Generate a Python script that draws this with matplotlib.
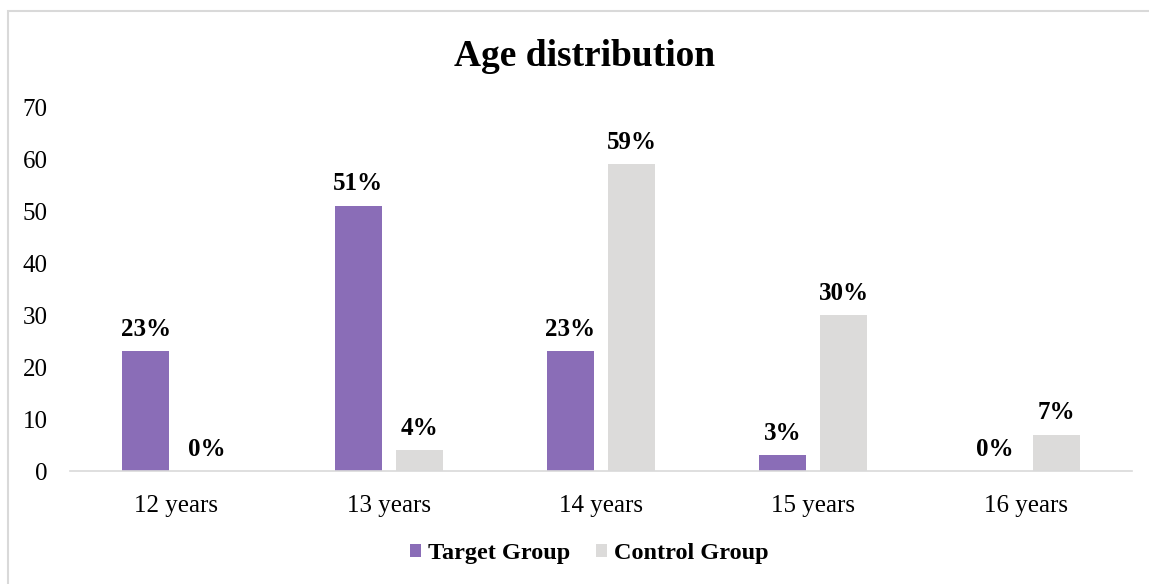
import matplotlib
matplotlib.use("Agg")
import matplotlib.pyplot as plt
import numpy as np
from matplotlib.patches import Rectangle

categories = ["12 years", "13 years", "14 years", "15 years", "16 years"]
target = [23, 51, 23, 3, 0]
control = [0, 4, 59, 30, 7]
series_names = ["Target Group", "Control Group"]
yticks = [0, 10, 20, 30, 40, 50, 60, 70]

plt.rcParams['font.family'] = ['Liberation Serif', 'DejaVu Serif']

W, H = 1149, 584
fig = plt.figure(figsize=(W/100, H/100), dpi=100)
ax = fig.add_axes([70/W, 1-471/H, (1132-70)/W, (471-107)/H])

x = np.arange(len(categories))
bw = 0.221
off = 0.1436
c_t = "#8A6DB7"
c_c = "#DCDBDA"
b1 = ax.bar(x - off, target, bw, color=c_t, label=series_names[0])
b2 = ax.bar(x + off, control, bw, color=c_c, label=series_names[1])

for xi, v in zip(x - off, target):
    ax.text(xi, v + 2.0, f"{v}%", ha="center", va="bottom", fontsize=18, fontweight="bold")
for xi, v in zip(x + off, control):
    ax.text(xi, v + 2.0, f"{v}%", ha="center", va="bottom", fontsize=18, fontweight="bold")

ax.set_xlim(-0.5, len(categories) - 0.5)
ax.set_ylim(0, 70)
ax.set_yticks(yticks)
ax.set_xticks(x)
ax.set_xticklabels(categories)
ax.tick_params(axis="both", length=0, labelsize=18)
ax.tick_params(axis="y", pad=16)
ax.tick_params(axis="x", pad=17)
for s in ["top", "right", "left"]:
    ax.spines[s].set_visible(False)
ax.spines["bottom"].set_color("#D9D9D9")
ax.spines["bottom"].set_linewidth(1.2)

fig.text(585/W, 1-56/H, "Age distribution", ha="center", va="center", fontsize=27, fontweight="bold")

leg = fig.legend(handles=[b1, b2], loc="center", bbox_to_anchor=(589/W, 1-554/H), ncol=2, frameon=False,
                 prop={"size": 17.5, "weight": "bold"}, handlelength=0.45, handleheight=0.45,
                 handletextpad=0.3, columnspacing=1.05)

fig.patches.append(Rectangle((8/W, -0.1), 1.2, 1-11/H + 0.1, transform=fig.transFigure,
                             fill=False, edgecolor="#D9D9D9", linewidth=1.5))

fig.savefig("out.png", dpi=100)
